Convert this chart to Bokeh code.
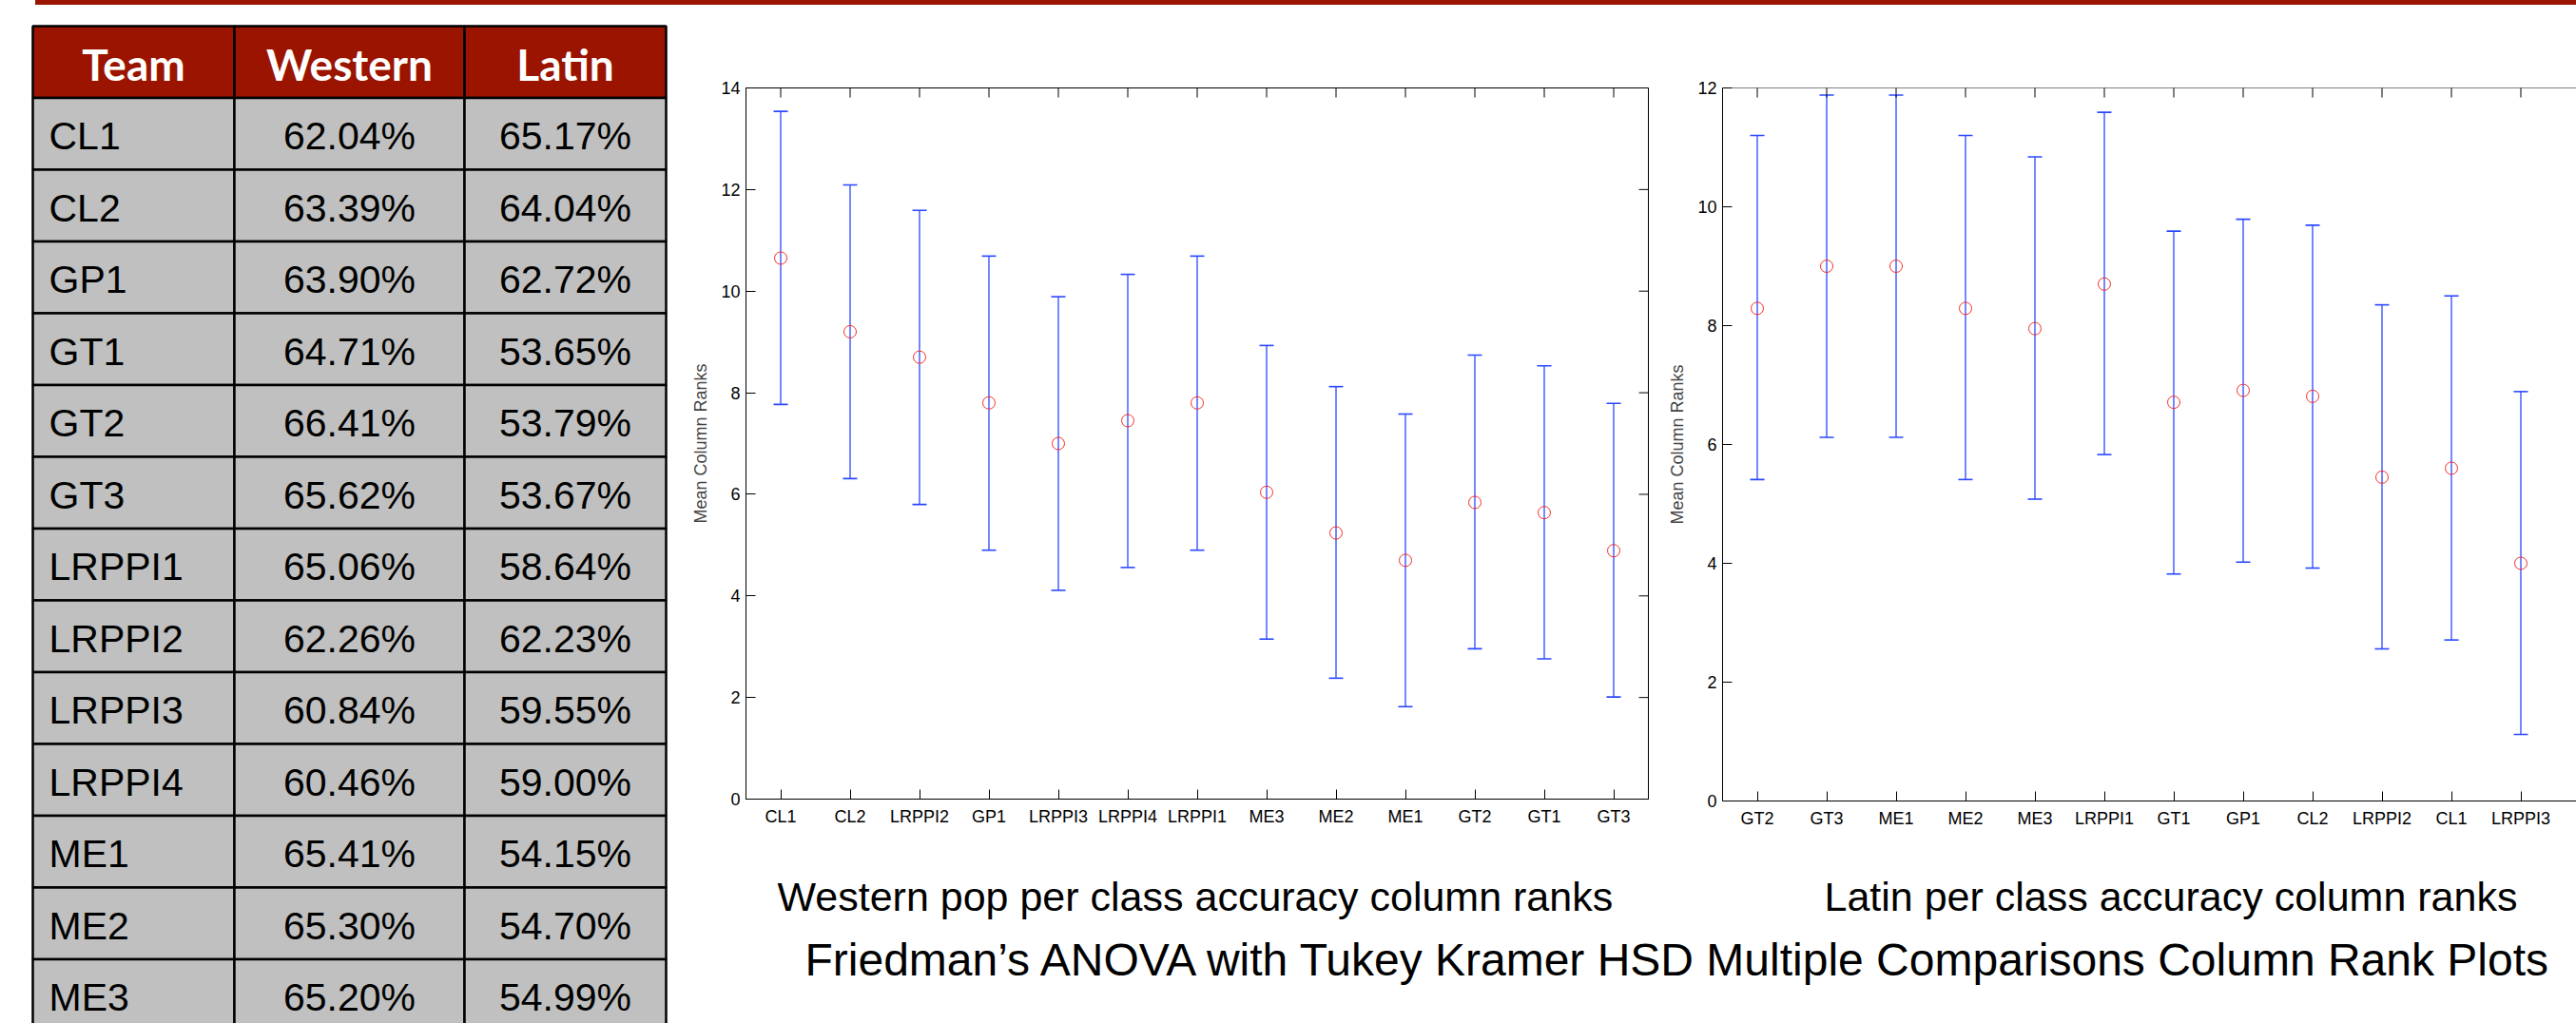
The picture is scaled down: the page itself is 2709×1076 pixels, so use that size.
import math
from bokeh.plotting import figure
from bokeh.layouts import row, column
from bokeh.models import (Range1d, FixedTicker, LinearAxis, Whisker, TeeHead,
                          ColumnDataSource, Div, Span)
from bokeh.core.properties import value
from bokeh.embed import file_html
from bokeh.resources import INLINE

# ---------------- data ----------------
teams = ["CL1", "CL2", "GP1", "GT1", "GT2", "GT3", "LRPPI1", "LRPPI2",
         "LRPPI3", "LRPPI4", "ME1", "ME2", "ME3"]
western_acc = [62.04, 63.39, 63.90, 64.71, 66.41, 65.62, 65.06, 62.26,
               60.84, 60.46, 65.41, 65.30, 65.20]
latin_acc = [65.17, 64.04, 62.72, 53.65, 53.79, 53.67, 58.64, 62.23,
             59.55, 59.00, 54.15, 54.70, 54.99]
table_headers = ["Team", "Western", "Latin"]

western_order = ["CL1", "CL2", "LRPPI2", "GP1", "LRPPI3", "LRPPI4", "LRPPI1",
                 "ME3", "ME2", "ME1", "GT2", "GT1", "GT3"]
western_mean = [10.65, 9.20, 8.70, 7.80, 7.00, 7.45, 7.80, 6.04, 5.24, 4.70, 5.84, 5.64, 4.89]
western_low = [7.77, 6.31, 5.80, 4.90, 4.11, 4.56, 4.90, 3.15, 2.38, 1.82, 2.96, 2.76, 2.01]
western_high = [13.54, 12.09, 11.59, 10.69, 9.89, 10.33, 10.69, 8.93, 8.12, 7.58, 8.74, 8.53, 7.79]

latin_order = ["GT2", "GT3", "ME1", "ME2", "ME3", "LRPPI1", "GT1", "GP1",
               "CL2", "LRPPI2", "CL1", "LRPPI3", "LRPPI4"]
latin_mean = [8.29, 9.00, 9.00, 8.29, 7.95, 8.70, 6.71, 6.91, 6.81, 5.45, 5.60, 4.00]
latin_low = [5.41, 6.12, 6.12, 5.41, 5.08, 5.83, 3.82, 4.02, 3.92, 2.56, 2.71, 1.12]
latin_high = [11.20, 11.88, 11.88, 11.20, 10.84, 11.59, 9.59, 9.79, 9.69, 8.35, 8.50, 6.89]

western_title = "Western pop per class accuracy column ranks"
latin_title = "Latin per class accuracy column ranks"
main_title = "Friedman\u2019s ANOVA with Tukey Kramer HSD Multiple Comparisons Column Rank Plots"
y_label = "Mean Column Ranks"

# ---------------- styles ----------------
RED = "#9b1400"
GRAY = "#bfc0bf"
BLUE = "#2a48ff"
MARK = "#f2302a"
FONT = "Liberation Sans"
HFONT = "Lato"


def bare(fig):
    fig.grid.visible = False
    return fig


# ---------------- top bar ----------------
top_bar = Div(text="", width=2672, height=5, margin=(0, 0, 0, 37),
              styles={"background-color": RED, "padding": "0px"})

# ---------------- table ----------------
tbl = figure(width=715, height=1071, toolbar_location=None, output_backend="svg",
             min_border=0, x_axis_location=None, y_axis_location=None,
             x_range=Range1d(0, 715), y_range=Range1d(13.894, -0.291),
             outline_line_color=None)
bare(tbl)
col_edges = [34, 246, 488, 700]
col_mid = [(a + b) / 2 for a, b in zip(col_edges[:-1], col_edges[1:])]

tbl.quad(left=col_edges[:-1], right=col_edges[1:], top=[0] * 3, bottom=[1] * 3,
         fill_color=RED, line_color="black", line_width=2.5)
ql, qr, qt, qb = [], [], [], []
for r in range(len(teams)):
    for c in range(3):
        ql.append(col_edges[c]); qr.append(col_edges[c + 1])
        qt.append(r + 1); qb.append(r + 2)
tbl.quad(left=ql, right=qr, top=qt, bottom=qb, fill_color=GRAY,
         line_color="black", line_width=2.5)

tbl.text(x=col_mid, y=[0.53] * 3, text=table_headers, text_font=value(HFONT),
         text_font_style="bold", text_font_size=value("46px"), text_color="white",
         text_align="center", text_baseline="middle")

row_y = [i + 1.533 for i in range(len(teams))]
tbl.text(x=[51] * len(teams), y=row_y, text=teams, text_font=value(FONT),
         text_font_size=value("41px"), text_color="black",
         text_align="left", text_baseline="middle")
tbl.text(x=[col_mid[1]] * len(teams), y=row_y, text=["%.2f%%" % v for v in western_acc],
         text_font=value(FONT), text_font_size=value("41px"), text_color="black",
         text_align="center", text_baseline="middle")
tbl.text(x=[col_mid[2]] * len(teams), y=row_y, text=["%.2f%%" % v for v in latin_acc],
         text_font=value(FONT), text_font_size=value("41px"), text_color="black",
         text_align="center", text_baseline="middle")


# ---------------- rank charts ----------------
def style_axis(ax):
    ax.major_tick_in = 10
    ax.major_tick_out = 0
    ax.minor_tick_in = 0
    ax.minor_tick_out = 0
    ax.axis_line_color = "black"
    ax.major_tick_line_color = "black"
    ax.major_label_text_font = FONT
    ax.major_label_text_color = "black"
    ax.major_label_text_font_size = "18px"


def rank_chart(cats, mean, low, high, ymax, frame_w, frame_h, xmax,
               border_right, border_bottom, full_box):
    n = len(mean)
    xs = list(range(1, n + 1))
    p = figure(frame_width=frame_w, frame_height=frame_h,
               x_range=Range1d(0.5, xmax), y_range=Range1d(0, ymax),
               toolbar_location=None, output_backend="svg",
               min_border_left=69, min_border_right=border_right,
               min_border_top=87, min_border_bottom=border_bottom,
               x_axis_location=None, y_axis_location=None,
               outline_line_color="black" if full_box else None)
    bare(p)
    xticks = list(range(1, len(cats) + 1))
    yticks = list(range(0, ymax + 1, 2))
    overrides = {i + 1: c for i, c in enumerate(cats)}

    left = LinearAxis(ticker=FixedTicker(ticks=yticks), axis_label=y_label)
    style_axis(left)
    left.major_label_standoff = 6
    left.axis_label_text_font = FONT
    left.axis_label_text_font_size = "18px"
    left.axis_label_text_font_style = "normal"
    left.axis_label_standoff = 8
    p.add_layout(left, "left")

    below = LinearAxis(ticker=FixedTicker(ticks=xticks), major_label_overrides=overrides)
    style_axis(below)
    below.major_label_standoff = 8
    p.add_layout(below, "below")

    # box edge on top (and right, for the full box) with inward ticks
    if not full_box:
        p.add_layout(Span(location=ymax, dimension="width", line_color="black",
                          line_width=1))
    top_x = [t for t in xticks if t <= xmax]
    p.scatter(top_x, [ymax] * len(top_x), marker="dash", angle=math.pi / 2,
              size=20, line_color="black", line_width=1)
    if full_box:
        p.scatter([xmax] * len(yticks), yticks, marker="dash", size=20,
                  line_color="black", line_width=1)

    src = ColumnDataSource(dict(x=xs, m=mean, lo=low, hi=high))
    w = Whisker(source=src, base="x", lower="lo", upper="hi",
                line_color=BLUE, line_width=1.3,
                upper_head=TeeHead(size=15, line_color=BLUE, line_width=1.6),
                lower_head=TeeHead(size=15, line_color=BLUE, line_width=1.6))
    p.add_layout(w)
    p.scatter("x", "m", source=src, marker="circle", size=13, fill_color=None,
              line_color=MARK, line_width=1)
    return p


pL = rank_chart(western_order, western_mean, western_low, western_high, 14,
                949, 748, 13.5, 9, 50, True)
pR = rank_chart(latin_order, latin_mean, latin_low, latin_high, 12,
                898, 750, 0.5 + 898 / 73.0, 0, 48, False)

# ---------------- captions ----------------
cap = figure(width=1994, height=186, toolbar_location=None, output_backend="svg",
             min_border=0, x_axis_location=None, y_axis_location=None,
             x_range=Range1d(0, 1994), y_range=Range1d(186, 0),
             outline_line_color=None)
bare(cap)
cap.text(x=[102, 1203], y=[52, 52], text=[western_title, latin_title],
         text_font=value(FONT), text_font_size=value("43px"), text_color="black",
         text_align="left", text_baseline="alphabetic")
cap.text(x=[131], y=[119], text=[main_title], text_font=value(FONT),
         text_font_size=value("48px"), text_color="black",
         text_align="left", text_baseline="alphabetic")

layout = column(top_bar, row(tbl, column(row(pL, pR), cap)))

open("out.html", "w").write(file_html(layout, INLINE))
